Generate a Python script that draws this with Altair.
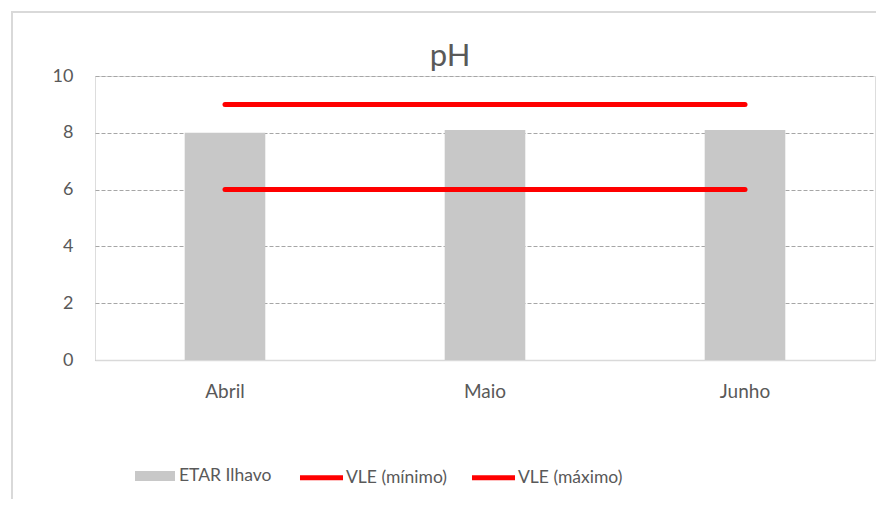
import altair as alt
import pandas as pd

months = ["Abril", "Maio", "Junho"]
etar = [8.0, 8.1, 8.1]
vle_min = [6, 6, 6]
vle_max = [9, 9, 9]
bar_series = ["ETAR Ilhavo"]
line_series = ["VLE (mínimo)", "VLE (máximo)"]
bar_color = "#c8c8c8"
line_color = "#ff0000"

bars_df = pd.DataFrame({"month": months, "value": etar, "series": bar_series[0]})
lines_df = pd.concat([
    pd.DataFrame({"month": months, "value": vle_min, "series": line_series[0]}),
    pd.DataFrame({"month": months, "value": vle_max, "series": line_series[1]}),
])

FONT = "Lato"
TXT = "#595959"

fill_legend = alt.Legend(
    title=None, orient="none", legendX=40, legendY=380, direction="horizontal",
    labelFont=FONT, labelFontSize=17.5, labelColor=TXT, labelOffset=4,
    symbolSize=1600, symbolStrokeWidth=0, symbolOpacity=1,
    symbolType="M-1,-0.25H1V0.25H-1Z",
)
stroke_legend = alt.Legend(
    title=None, orient="none", legendX=202, legendY=377, direction="horizontal",
    labelFont=FONT, labelFontSize=17.5, labelColor=TXT, labelOffset=0,
    columnPadding=14, symbolSize=1850, symbolStrokeWidth=5, symbolOpacity=1,
    symbolType="stroke",
)

x_enc = alt.X("month:N", sort=months, title=None,
              scale=alt.Scale(paddingInner=0.69, paddingOuter=0.345),
              axis=alt.Axis(labelAngle=0, ticks=False, domainColor="#d9d9d9", domainWidth=1.5,
                            labelFont=FONT, labelFontSize=19, labelColor=TXT, labelPadding=22,
                            grid=False))
y_enc = alt.Y("value:Q", title=None,
              scale=alt.Scale(domain=[0, 10]),
              axis=alt.Axis(values=[0, 2, 4, 6, 8, 10], domain=False, ticks=False,
                            labelFont=FONT, labelFontSize=18, labelColor=TXT, labelPadding=22,
                            gridColor="#a6a6a6", gridDash=[4, 2], gridWidth=1))

frame = alt.Chart(bars_df).mark_rect(fill="transparent", stroke="#d9d9d9", strokeWidth=2).encode(
    x=alt.value(-83), x2=alt.value(900), y=alt.value(-64), y2=alt.value(520)
)

bars = alt.Chart(bars_df).mark_bar(opacity=1).encode(
    x=x_enc, y=y_enc,
    fill=alt.Fill("series:N", scale=alt.Scale(domain=bar_series, range=[bar_color]), legend=fill_legend),
)

lines = alt.Chart(lines_df).mark_line(strokeWidth=5, strokeCap="round").encode(
    x=alt.X("month:N", sort=months),
    y=alt.Y("value:Q"),
    stroke=alt.Stroke("series:N", sort=line_series,
                      scale=alt.Scale(domain=line_series, range=[line_color, line_color]),
                      legend=stroke_legend),
)

chart = alt.layer(frame, bars, lines).properties(
    width=780, height=284,
    title=alt.Title("pH", font=FONT, fontSize=31, fontWeight="normal", color=TXT,
                    anchor="middle", dx=-35, offset=-62),
    autosize=alt.AutoSizeParams(type="none"),
    padding={"left": 87, "top": 68, "right": 1, "bottom": 139},
).configure_view(stroke=None).configure(background="white")

chart.save("out.html", embed_options={"renderer": "svg", "actions": False})
